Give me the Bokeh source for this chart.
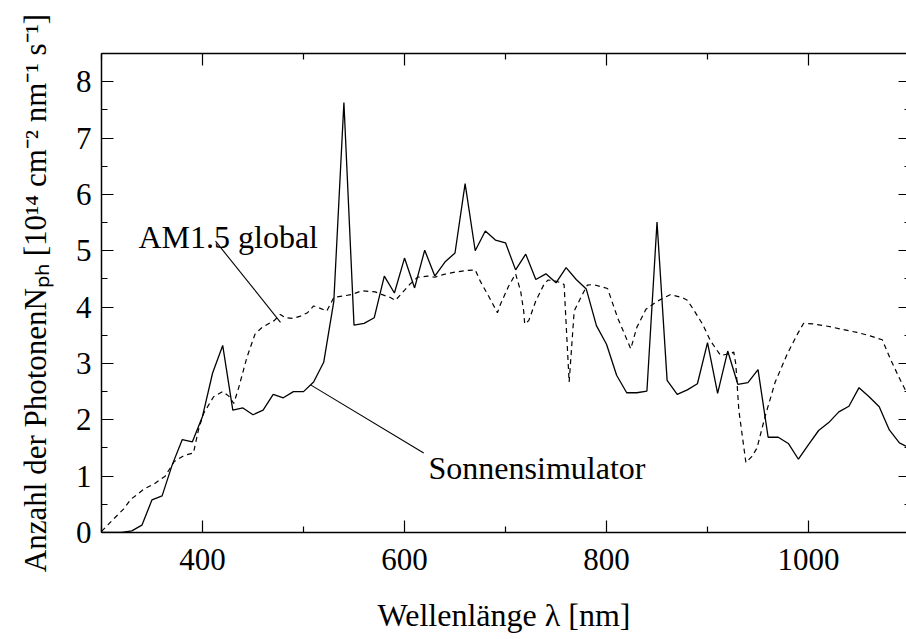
from bokeh.plotting import figure
from bokeh.models import LinearAxis, Range1d, Label, FixedTicker, ColumnDataSource
from bokeh.embed import file_html
from bokeh.resources import INLINE

# ---- data ----
wl_sim = [300, 310, 320, 330, 340, 350, 360, 370, 380, 390,
          400, 410, 420, 430, 440, 450, 460, 470, 480, 490,
          500, 510, 520, 530, 540, 550, 560, 570, 580, 590,
          600, 610, 620, 630, 640, 650, 660, 670, 680, 690,
          700, 710, 720, 730, 740, 750, 760, 770, 780, 790,
          800, 810, 820, 830, 840, 850, 860, 870, 880, 890,
          900, 910, 920, 930, 940, 950, 960, 970, 980, 990,
          1000, 1010, 1020, 1030, 1040, 1050, 1060, 1070, 1080, 1090, 1100]
n_sim = [0.0, 0.0, 0.0, 0.03, 0.13, 0.58, 0.65, 1.20, 1.65, 1.61,
         2.06, 2.83, 3.32, 2.17, 2.21, 2.09, 2.17, 2.45, 2.39, 2.50,
         2.50, 2.67, 3.02, 4.10, 7.63, 3.68, 3.71, 3.81, 4.55, 4.25,
         4.87, 4.34, 5.01, 4.55, 4.80, 4.96, 6.19, 5.00, 5.35, 5.19,
         5.14, 4.66, 4.94, 4.49, 4.59, 4.43, 4.70, 4.49, 4.32, 3.67,
         3.34, 2.79, 2.48, 2.48, 2.51, 5.51, 2.70, 2.45, 2.53, 2.64,
         3.37, 2.47, 3.22, 2.63, 2.66, 2.89, 1.69, 1.69, 1.58, 1.30,
         1.56, 1.81, 1.95, 2.14, 2.24, 2.57, 2.41, 2.23, 1.82, 1.59, 1.50]

wl_am = [300, 312, 322, 329, 335, 342, 352, 363, 372, 382, 391, 396, 401, 411,
         420, 426, 431, 436, 444, 452, 459, 471, 477, 482, 490, 497, 504, 510,
         515, 523, 530, 547, 558, 571, 578, 586, 591, 599, 605, 613, 623, 630,
         639, 650, 662, 670, 675, 684, 692, 695, 703, 710, 715, 718, 719, 723,
         730, 738, 742, 748, 755, 758, 763, 768, 776, 781, 787, 801, 811, 824,
         830, 839, 849, 854, 863, 875, 880, 886, 895, 903, 913, 921, 926, 928,
         931, 938, 944, 949, 957, 967, 979, 989, 995, 1005, 1019, 1032, 1048,
         1061, 1073, 1081, 1091, 1100]
n_am = [0.02, 0.24, 0.42, 0.59, 0.67, 0.77, 0.86, 1.00, 1.26, 1.37, 1.41, 1.82, 2.11, 2.41,
        2.50, 2.42, 2.29, 2.58, 3.11, 3.52, 3.64, 3.76, 3.87, 3.81, 3.80, 3.84, 3.90, 4.02,
        3.99, 3.93, 4.17, 4.22, 4.29, 4.27, 4.22, 4.17, 4.12, 4.28, 4.40, 4.53, 4.55, 4.53,
        4.58, 4.62, 4.65, 4.66, 4.46, 4.17, 3.90, 4.05, 4.37, 4.59, 4.28, 3.93, 3.70, 3.76,
        4.11, 4.40, 4.48, 4.47, 4.43, 4.40, 2.67, 3.93, 4.22, 4.39, 4.40, 4.33, 3.81, 3.26,
        3.64, 3.96, 4.09, 4.14, 4.22, 4.17, 4.12, 3.96, 3.70, 3.40, 3.14, 3.17, 3.20, 2.99,
        2.17, 1.24, 1.35, 1.50, 2.06, 2.67, 3.17, 3.52, 3.71, 3.70, 3.66, 3.61, 3.55,
        3.49, 3.42, 3.08, 2.70, 2.38]

x_ticks = [400, 600, 800, 1000]
y_ticks = [0, 1, 2, 3, 4, 5, 6, 7, 8]
x_minor = [300, 500, 700, 900, 1100]
y_minor = [0.5, 1.5, 2.5, 3.5, 4.5, 5.5, 6.5, 7.5, 8.5]

label_am = "AM1.5 global"
label_sim = "Sonnensimulator"
label_am_pos = (336.6, 5.25)
label_sim_pos = (623.8, 1.14)
leader_am = ([412.9], [5.17], [477.2], [3.73])
leader_sim = ([507.0], [2.62], [619.0], [1.41])

x_label = "Wellenlänge λ [nm]"
y_label = "Anzahl der PhotonenNₚₕ [10¹⁴ cm⁻² nm⁻¹ s⁻¹]"

FONT = "'Liberation Serif', 'Times New Roman', serif"

p = figure(width=906, height=635, x_range=Range1d(300, 1097), y_range=Range1d(0, 8.5),
           output_backend="svg", toolbar_location=None,
           min_border_left=101, min_border_top=53, min_border_bottom=98, min_border_right=0)
p.outline_line_color = None
p.grid.visible = False
p.background_fill_color = "white"
p.border_fill_color = "white"

p.line(wl_sim, n_sim, line_color="black", line_width=1.3)
p.line(wl_am, n_am, line_color="black", line_width=1.2, line_dash="5 4")

src_am = ColumnDataSource(dict(x0=leader_am[0], y0=leader_am[1], x1=leader_am[2], y1=leader_am[3]))
src_sim = ColumnDataSource(dict(x0=leader_sim[0], y0=leader_sim[1], x1=leader_sim[2], y1=leader_sim[3]))
p.segment("x0", "y0", "x1", "y1", source=src_am, line_color="black", line_width=1.1)
p.segment("x0", "y0", "x1", "y1", source=src_sim, line_color="black", line_width=1.1)

p.add_layout(Label(x=label_am_pos[0], y=label_am_pos[1], text=label_am, text_font=FONT,
                   text_font_size="32px", text_color="black", text_baseline="alphabetic"))
p.add_layout(Label(x=label_sim_pos[0], y=label_sim_pos[1], text=label_sim, text_font=FONT,
                   text_font_size="32px", text_color="black", text_baseline="alphabetic"))

def style_axis(ax, ticks, minor, show_labels=True, show_line=True):
    ax.ticker = FixedTicker(ticks=ticks, minor_ticks=minor)
    ax.major_tick_in = 12
    ax.major_tick_out = 0
    ax.minor_tick_in = 6
    ax.minor_tick_out = 0
    ax.major_tick_line_color = "black"
    ax.minor_tick_line_color = "black"
    ax.major_tick_line_width = 1.2
    ax.minor_tick_line_width = 1.2
    ax.axis_line_color = "black" if show_line else None
    ax.axis_line_width = 1.5
    ax.major_label_text_font = FONT
    ax.major_label_text_color = "black"
    if show_labels:
        ax.major_label_text_font_size = "31px"
    else:
        ax.major_label_text_font_size = "10px"
        ax.major_label_standoff = 0
        ax.major_label_overrides = {t: "" for t in ticks}

style_axis(p.xaxis[0], x_ticks, x_minor)
style_axis(p.yaxis[0], y_ticks, y_minor)
p.xaxis[0].major_label_standoff = 16
p.yaxis[0].major_label_standoff = 10
p.xaxis[0].axis_label = x_label
p.yaxis[0].axis_label = y_label
for ax in (p.xaxis[0], p.yaxis[0]):
    ax.axis_label_text_font = FONT
    ax.axis_label_text_font_style = "normal"
    ax.axis_label_text_color = "black"
p.xaxis[0].axis_label_text_font_size = "32px"
p.yaxis[0].axis_label_text_font_size = "31px"
p.xaxis[0].axis_label_standoff = 24
p.yaxis[0].axis_label_standoff = 20

top_ax = LinearAxis()
style_axis(top_ax, x_ticks, x_minor, show_labels=False)
p.add_layout(top_ax, "above")
right_ax = LinearAxis()
style_axis(right_ax, y_ticks, y_minor, show_labels=False, show_line=False)
right_ax.major_tick_in = 8
right_ax.minor_tick_in = 2
p.add_layout(right_ax, "right")

open("out.html", "w").write(file_html(p, INLINE))
